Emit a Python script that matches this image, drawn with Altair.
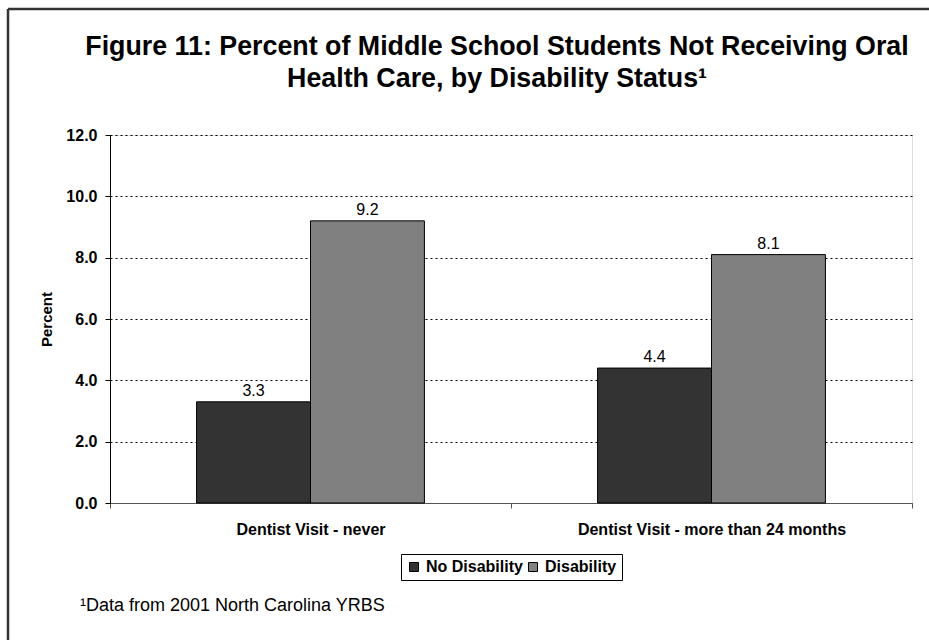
import altair as alt
import pandas as pd

# Survey results: percent of middle school students not receiving oral health care
categories = ["Dentist Visit - never", "Dentist Visit - more than 24 months"]
groups = ["No Disability", "Disability"]
no_disability = [3.3, 4.4]
disability = [9.2, 8.1]
y_ticks = [0, 2, 4, 6, 8, 10, 12]
title_lines = [
    "Figure 11: Percent of Middle School Students Not Receiving Oral",
    "Health Care, by Disability Status\u00b9",
]
footnote = ["\u00b9Data from 2001 North Carolina YRBS"]

rows = []
for i, cat in enumerate(categories):
    rows.append({"category": cat, "group": groups[0], "value": no_disability[i]})
    rows.append({"category": cat, "group": groups[1], "value": disability[i]})
df = pd.DataFrame(rows)

FONT = "Liberation Sans"
PLOT_W, PLOT_H = 802, 368
LEFT, TOP = 110, 135

x_enc = alt.X(
    "category:N",
    sort=categories,
    scale=alt.Scale(paddingInner=0, paddingOuter=0),
    axis=alt.Axis(
        title=None,
        labelAngle=0,
        labelLimit=0,
        labelFont=FONT,
        labelFontSize=16,
        labelFontWeight="bold",
        labelColor="black",
        labelPadding=13,
        tickBand="extent",
        tickSize=5,
        tickColor="#555555",
        domainColor="#555555",
        grid=False,
    ),
)
xoff_enc = alt.XOffset("group:N", sort=groups, scale=alt.Scale(paddingOuter=0.76, paddingInner=0))
y_enc = alt.Y(
    "value:Q",
    scale=alt.Scale(domain=[0, 12], nice=False),
    axis=alt.Axis(
        title="Percent",
        titleFont=FONT,
        titleFontSize=15,
        titleFontWeight="bold",
        titleColor="black",
        titlePadding=11,
        values=y_ticks,
        format=".1f",
        labelFont=FONT,
        labelFontSize=16,
        labelFontWeight="bold",
        labelColor="black",
        labelPadding=8,
        tickSize=5,
        tickColor="black",
        domainColor="black",
        grid=True,
        gridColor="black",
        gridDash=[2, 3],
        gridWidth=1,
    ),
)

bars = alt.Chart(df).mark_bar(stroke="black", strokeWidth=1).encode(
    x=x_enc,
    xOffset=xoff_enc,
    y=y_enc,
    color=alt.Color(
        "group:N",
        sort=groups,
        scale=alt.Scale(domain=groups, range=["#333333", "#808080"]),
        legend=alt.Legend(
            title=None,
            orient="none",
            legendX=291,
            legendY=419,
            direction="horizontal",
            symbolType="square",
            symbolSize=81,
            symbolStrokeColor="black",
            symbolStrokeWidth=1,
            labelFont=FONT,
            labelFontSize=16,
            labelFontWeight="bold",
            labelColor="black",
            labelOffset=4,
            columnPadding=2,
            padding=5,
            strokeColor="black",
            fillColor="white",
        ),
    ),
)

labels = alt.Chart(df).mark_text(
    baseline="bottom", dy=-3, font=FONT, fontSize=16, color="black"
).encode(
    x=alt.X("category:N", sort=categories),
    xOffset=alt.XOffset("group:N", sort=groups),
    y="value:Q",
    text=alt.Text("value:Q", format=".1f"),
)

heading = alt.Chart(pd.DataFrame({"t": ["\n".join(title_lines)]})).mark_text(
    align="center",
    baseline="alphabetic",
    lineBreak="\n",
    lineHeight=32,
    font=FONT,
    fontSize=26.8,
    fontWeight="bold",
    color="black",
).encode(x=alt.value(497 - LEFT), y=alt.value(55 - TOP), text="t:N")

note = alt.Chart(pd.DataFrame({"t": footnote})).mark_text(
    align="left", baseline="middle", font=FONT, fontSize=18, color="black"
).encode(x=alt.value(80 - LEFT), y=alt.value(606 - TOP), text="t:N")

# outer frame edges (left and top of the chart box)
frame_left = alt.Chart(pd.DataFrame({"k": [0]})).mark_rule(color="#333333", strokeWidth=2.5).encode(
    x=alt.value(8 - LEFT), y=alt.value(9 - TOP), y2=alt.value(640 - TOP)
)
frame_top = alt.Chart(pd.DataFrame({"k": [0]})).mark_rule(color="#333333", strokeWidth=2.5).encode(
    x=alt.value(8 - LEFT), x2=alt.value(929 - LEFT), y=alt.value(9 - TOP)
)

chart = (
    alt.layer(frame_left, frame_top, bars, labels, heading, note)
    .properties(
        width=PLOT_W,
        height=PLOT_H,
        autosize=alt.AutoSizeParams(type="none"),
        padding={"left": LEFT, "top": TOP, "right": 929 - LEFT - PLOT_W, "bottom": 640 - TOP - PLOT_H},
    )
    .configure_view(stroke=None)
    .configure(background="white")
)

chart.save("out.html", embed_options={"renderer": "svg", "actions": False})
